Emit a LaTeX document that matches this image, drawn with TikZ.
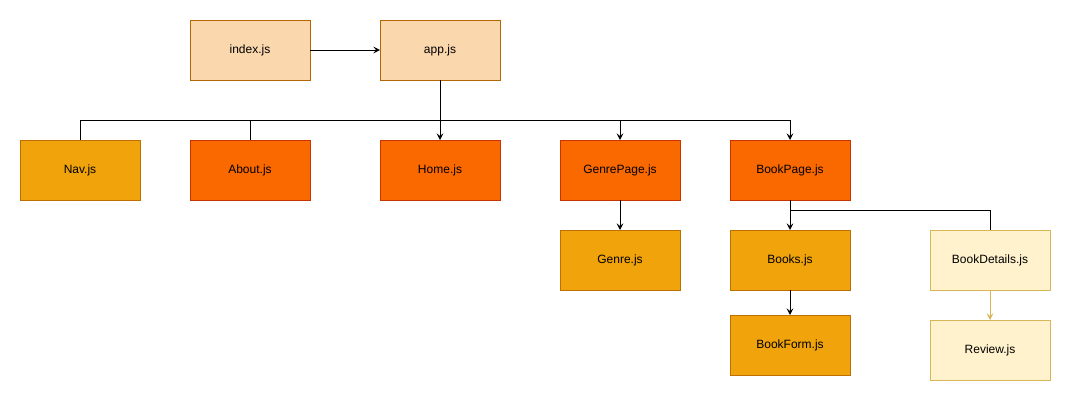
\documentclass[tikz,border=0pt]{standalone}
\usepackage{fontspec}
\setmainfont{Liberation Sans}
\definecolor{peachfill}{HTML}{FAD7AC}
\definecolor{peachline}{HTML}{B46504}
\definecolor{amberfill}{HTML}{F0A30A}
\definecolor{amberline}{HTML}{BD7000}
\definecolor{orangefill}{HTML}{FA6800}
\definecolor{orangeline}{HTML}{C73500}
\definecolor{creamfill}{HTML}{FFF2CC}
\definecolor{creamline}{HTML}{D6B656}
\usetikzlibrary{arrows.meta,positioning,calc}

\begin{document}
\begin{tikzpicture}[
  node distance=45pt and 52.5pt,
  block/.style={rectangle, draw, line width=0.75pt, minimum height=45pt, minimum width=90pt, font=\fontsize{9}{11}\selectfont, align=center, inner sep=0pt, outer sep=0pt},
  entryblock/.style={block, fill=peachfill, draw=peachline},
  pageblock/.style={block, fill=orangefill, draw=orangeline},
  partblock/.style={block, fill=amberfill, draw=amberline},
  detailblock/.style={block, fill=creamfill, draw=creamline},
  arrow/.style={-{Stealth[length=5pt,width=5pt,inset=2pt]}, line width=0.75pt},
  wire/.style={line width=0.75pt},
]
\useasboundingbox (0,0) rectangle (804pt,-300.75pt);

% Entry
\node[entryblock] (index) at (187.5pt,-37.5pt) {index.js};
\node[entryblock, right=of index] (app) {app.js};

% Top level components
\node[pageblock, below=of index] (about) {About.js};
\node[partblock, left=37.5pt of about] (nav) {Nav.js};
\node[pageblock, below=of app] (home) {Home.js};
\node[pageblock, right=45pt of home] (genrepage) {GenrePage.js};
\node[pageblock, right=37.5pt of genrepage] (bookpage) {BookPage.js};

% Children
\node[partblock, below=22.5pt of genrepage] (genre) {Genre.js};
\node[partblock, below=22.5pt of bookpage] (books) {Books.js};
\node[partblock, below=18.75pt of books] (bookform) {BookForm.js};
\node[detailblock, right=60pt of books] (bookdetails) {BookDetails.js};
\node[detailblock, below=22.5pt of bookdetails] (review) {Review.js};

% Junctions
\coordinate (bus) at ($(app.south)+(0,-30pt)$);
\coordinate (split) at ($(bookpage.south)+(0,-7.5pt)$);

% Arrows
\draw[arrow] (index) -- (app);
\draw[arrow] (app) -- (home);
\draw[wire] (nav.north) |- (bus);
\draw[wire] (about.north) |- (bus);
\draw[arrow] (bus) -| (genrepage.north);
\draw[arrow] (bus) -| (bookpage.north);
\draw[arrow] (genrepage) -- (genre);
\draw[arrow] (bookpage) -- (books);
\draw[wire] (split) -| (bookdetails.north);
\draw[arrow] (books) -- (bookform);
\draw[arrow, creamline] (bookdetails) -- (review);

\end{tikzpicture}
\end{document}
